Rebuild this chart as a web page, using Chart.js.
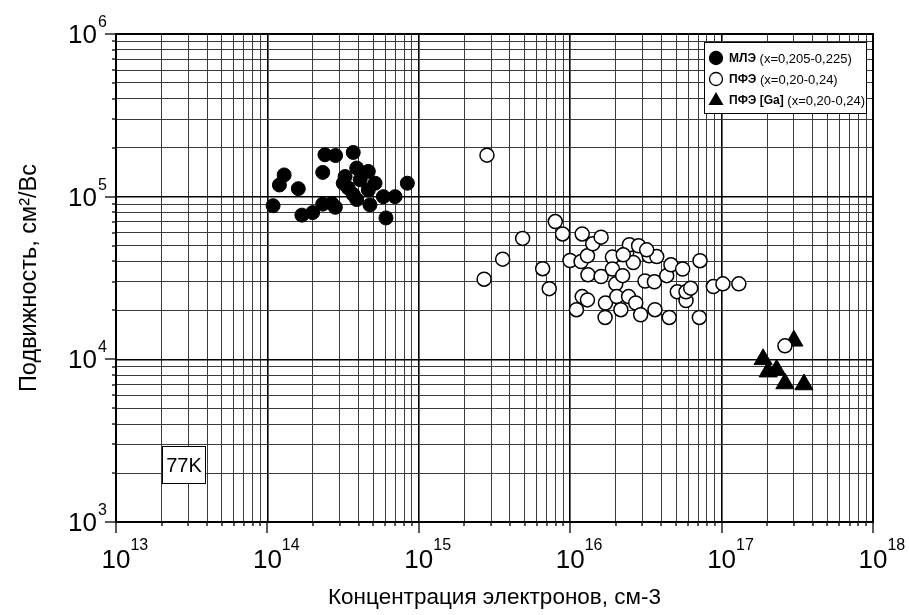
<!DOCTYPE html>
<html>
<head>
<meta charset="utf-8">
<script src="https://cdn.jsdelivr.net/npm/chart.js@4"></script>
<style>
  body { margin: 0; background: #fff; }
</style>
</head>
<body>
<canvas id="chart" width="909" height="615"></canvas>
<script>
// МЛЭ (black circles)
const mbeConc = [1.09e14, 1.29e14, 1.2e14, 1.6e14, 1.69e14, 1.99e14, 2.32e14, 2.66e14, 2.81e14, 2.32e14,
                 2.4e14, 2.82e14, 3.69e14, 3.26e14, 3.89e14, 4.64e14, 3.42e14, 3.69e14, 3.89e14, 5.14e14,
                 4.64e14, 4.76e14, 5.83e14, 6.97e14, 6.07e14, 8.4e14, 4.1e14, 3.17e14];
const mbeMob = [8.8e4, 1.36e5, 1.18e5, 1.12e5, 7.7e4, 7.98e4, 9.0e4, 9.1e4, 8.6e4, 1.41e5,
                1.81e5, 1.79e5, 1.87e5, 1.33e5, 1.5e5, 1.43e5, 1.13e5, 1.03e5, 9.6e4, 1.21e5,
                1.1e5, 8.9e4, 1.0e5, 1.0e5, 7.4e4, 1.21e5, 1.27e5, 1.21e5];

// ПФЭ (open circles)
const lpeConc = [2.7e15, 3.58e15, 4.85e15, 6.58e15, 7.27e15, 7.97e15, 8.9e15, 9.97e15, 1.1e16, 1.2e16,
                 1.18e16, 1.2e16, 1.3e16, 1.31e16, 1.3e16, 1.41e16, 1.6e16, 1.6e16, 1.71e16, 1.7e16,
                 1.9e16, 1.9e16, 2.0e16, 2.03e16, 2.16e16, 2.22e16, 2.36e16, 2.46e16, 2.43e16, 2.61e16,
                 2.71e16, 2.83e16, 2.92e16, 3.12e16, 3.32e16, 3.6e16, 3.63e16, 3.73e16, 4.34e16, 4.51e16,
                 4.63e16, 5.1e16, 5.53e16, 5.82e16, 5.82e16, 6.25e16, 7.2e16, 7.13e16, 8.82e16, 1.02e17,
                 1.3e17, 2.24e16, 3.2e16, 2.82e15, 2.62e17];
const lpeMob = [3.11e4, 4.13e4, 5.54e4, 3.61e4, 2.72e4, 7.03e4, 5.9e4, 4.05e4, 2.02e4, 5.9e4,
                3.99e4, 2.43e4, 4.33e4, 3.31e4, 2.32e4, 5.13e4, 5.64e4, 3.23e4, 2.22e4, 1.81e4,
                4.25e4, 3.59e4, 2.91e4, 2.43e4, 2.02e4, 3.27e4, 4.5e4, 5.06e4, 2.43e4, 3.94e4,
                2.22e4, 4.99e4, 1.88e4, 3.03e4, 4.33e4, 3.0e4, 2.02e4, 4.28e4, 3.27e4, 1.81e4,
                3.81e4, 2.6e4, 3.59e4, 2.3e4, 2.6e4, 2.74e4, 4.04e4, 1.81e4, 2.8e4, 2.91e4,
                2.91e4, 4.39e4, 4.71e4, 1.8e5, 1.21e4];

// ПФЭ [Ga] (black triangles)
const gaConc = [1.88e17, 2.03e17, 2.31e17, 2.62e17, 3.5e17, 3.0e17];
const gaMob = [1.0e4, 8.4e3, 8.6e3, 7.1e3, 7.0e3, 1.3e4];

const xDecades = [13, 14, 15, 16, 17, 18];
const yDecades = [3, 4, 5, 6];

const legendNames = ['МЛЭ', 'ПФЭ', 'ПФЭ [Ga]'];
const legendRanges = [' (x=0,205-0,225)', ' (x=0,20-0,24)', ' (x=0,20-0,24)'];

const xTitle = 'Концентрация электронов, см-3';
const yTitle = 'Подвижность, см²/Вс';
const tempLabel = '77K';

const FONT = '"Liberation Sans", Arial, sans-serif';

function logTicks(decades) {
    let vals = [];
    for (let i = 0; i < decades.length - 1; i++) {
        for (let m = 1; m <= 9; m++) {
            vals.push(m * Math.pow(10, decades[i]));
        }
    }
    vals.push(Math.pow(10, decades[decades.length - 1]));
    return vals;
}

function isDecade(v) {
    let l = Math.log10(v);
    return Math.abs(l - Math.round(l)) < 1e-6;
}

function toPoints(xs, ys) {
    return xs.map((x, i) => ({x: x, y: ys[i]}));
}

function gridColor(context) {
    return isDecade(context.tick.value) ? '#000' : '#3a3a3a';
}
function gridWidth(context) {
    return isDecade(context.tick.value) ? 1.6 : 1;
}

const decor = {
    id: 'decor',
    afterDraw(chart) {
        const ctx = chart.ctx;
        const a = chart.chartArea;
        const xs = chart.scales.x;
        const ys = chart.scales.y;
        ctx.save();

        // frame
        ctx.strokeStyle = '#000';
        ctx.lineWidth = 2;
        ctx.strokeRect(a.left, a.top, a.right - a.left, a.bottom - a.top);

        // outward tick marks
        ctx.lineWidth = 1.3;
        xs.ticks.forEach(t => {
            let px = Math.round(xs.getPixelForValue(t.value));
            let len = isDecade(t.value) ? 11 : 4;
            ctx.beginPath();
            ctx.moveTo(px, a.bottom);
            ctx.lineTo(px, a.bottom + len);
            ctx.stroke();
        });
        ys.ticks.forEach(t => {
            let py = Math.round(ys.getPixelForValue(t.value));
            let len = isDecade(t.value) ? 11 : 4;
            ctx.beginPath();
            ctx.moveTo(a.left, py);
            ctx.lineTo(a.left - len, py);
            ctx.stroke();
        });

        // tick labels 10^n
        ctx.fillStyle = '#000';
        xDecades.forEach(d => {
            let px = xs.getPixelForValue(Math.pow(10, d));
            ctx.font = '26px ' + FONT;
            ctx.textAlign = 'center';
            ctx.textBaseline = 'alphabetic';
            ctx.fillText('10', px, 568);
            let w = ctx.measureText('10').width;
            ctx.font = '16px ' + FONT;
            ctx.textAlign = 'left';
            ctx.fillText(String(d), px + w / 2, 550);
        });
        yDecades.forEach(d => {
            let py = ys.getPixelForValue(Math.pow(10, d));
            ctx.font = '26px ' + FONT;
            ctx.textAlign = 'right';
            ctx.textBaseline = 'alphabetic';
            ctx.fillText('10', 97, py + 9);
            ctx.font = '16px ' + FONT;
            ctx.textAlign = 'left';
            ctx.fillText(String(d), 98, py - 7);
        });

        // axis titles
        ctx.textAlign = 'center';
        ctx.textBaseline = 'middle';
        ctx.font = '22.5px ' + FONT;
        ctx.fillText(xTitle, (a.left + a.right) / 2, 598);
        ctx.save();
        ctx.translate(30, (a.top + a.bottom) / 2);
        ctx.rotate(-Math.PI / 2);
        ctx.font = '23.5px ' + FONT;
        ctx.fillText(yTitle, 0, 0);
        ctx.restore();

        // 77K box
        ctx.fillStyle = '#fff';
        ctx.fillRect(162, 446, 43, 37);
        ctx.strokeStyle = '#000';
        ctx.lineWidth = 1;
        ctx.strokeRect(162.5, 446.5, 43, 37);
        ctx.fillStyle = '#000';
        ctx.font = '20px ' + FONT;
        ctx.textAlign = 'center';
        ctx.fillText(tempLabel, 184, 466);

        // legend
        ctx.fillStyle = '#fff';
        ctx.fillRect(704, 42, 162, 71);
        ctx.strokeRect(704.5, 42.5, 162, 71);
        const rows = [58, 79, 100];
        ctx.textAlign = 'left';
        ctx.textBaseline = 'middle';
        rows.forEach((ry, i) => {
            let sx = 716;
            ctx.beginPath();
            if (i === 2) {
                ctx.moveTo(sx, ry - 8);
                ctx.lineTo(sx + 7.5, ry + 5);
                ctx.lineTo(sx - 7.5, ry + 5);
                ctx.closePath();
                ctx.fillStyle = '#000';
                ctx.fill();
            } else {
                ctx.arc(sx, ry, 6.5, 0, Math.PI * 2);
                ctx.fillStyle = i === 0 ? '#000' : '#fff';
                ctx.fill();
                ctx.lineWidth = 1.3;
                ctx.stroke();
            }
            ctx.fillStyle = '#000';
            ctx.font = 'bold 12px ' + FONT;
            ctx.fillText(legendNames[i], 729, ry + 1);
            let w = ctx.measureText(legendNames[i]).width;
            ctx.font = '13px ' + FONT;
            ctx.fillText(legendRanges[i], 729 + w, ry + 1);
        });

        ctx.restore();
    }
};

const config = {
    type: 'scatter',
    data: {
        datasets: [
            {
                label: legendNames[0],
                data: toPoints(mbeConc, mbeMob),
                pointStyle: 'circle',
                pointRadius: 7,
                backgroundColor: '#000',
                borderColor: '#000',
                borderWidth: 1,
            },
            {
                label: legendNames[1],
                data: toPoints(lpeConc, lpeMob),
                pointStyle: 'circle',
                pointRadius: 7,
                backgroundColor: '#fff',
                borderColor: '#000',
                borderWidth: 1.5,
            },
            {
                label: legendNames[2],
                data: toPoints(gaConc, gaMob),
                pointStyle: 'triangle',
                pointRadius: 10.5,
                backgroundColor: '#000',
                borderColor: '#000',
                borderWidth: 1,
            },
        ],
    },
    options: {
        responsive: false,
        devicePixelRatio: 1,
        animation: false,
        events: [],
        layout: {
            padding: { top: 34, right: 36, left: 0, bottom: 0 },
        },
        plugins: {
            legend: { display: false },
            tooltip: { enabled: false },
        },
        scales: {
            x: {
                type: 'logarithmic',
                min: Math.pow(10, xDecades[0]),
                max: Math.pow(10, xDecades[xDecades.length - 1]),
                afterBuildTicks: function(scale) {
                    scale.ticks = logTicks(xDecades).map(v => ({ value: v }));
                },
                afterFit: function(scale) {
                    scale.height = 93;
                },
                ticks: { display: false },
                grid: { color: gridColor, lineWidth: gridWidth, drawTicks: false },
                border: { display: false },
            },
            y: {
                type: 'logarithmic',
                min: Math.pow(10, yDecades[0]),
                max: Math.pow(10, yDecades[yDecades.length - 1]),
                afterBuildTicks: function(scale) {
                    scale.ticks = logTicks(yDecades).map(v => ({ value: v }));
                },
                afterFit: function(scale) {
                    scale.width = 116;
                },
                ticks: { display: false },
                grid: { color: gridColor, lineWidth: gridWidth, drawTicks: false },
                border: { display: false },
            },
        },
    },
    plugins: [decor],
};

const chart = new Chart(document.getElementById('chart'), config);
</script>
</body>
</html>
